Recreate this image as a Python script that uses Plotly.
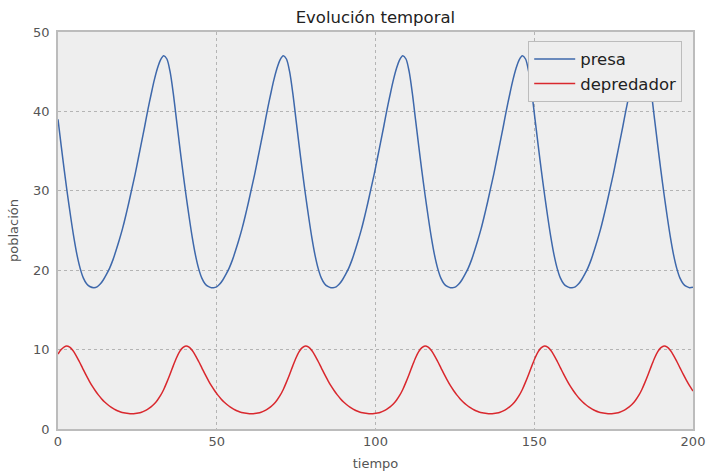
import plotly.graph_objects as go

# ---- data ----
# presa (prey)
presa_t_0 = [0, 1, 2, 3, 4, 5, 6, 7, 8, 9, 10]
presa_v_0 = [39.0, 35.7, 32.5, 29.5, 26.7, 24.1, 21.9, 20.2, 19.0, 18.3, 17.95]

presa_t_1 = [11.3, 12.3, 13.3, 14.3, 15.3, 16.3, 17.3, 18.3, 19.3, 20.3, 21.3, 22.3, 23.3, 24.3, 25.3, 26.3, 27.3, 28.3, 29.3,
             30.3, 31.3, 32.3, 33.3, 34.3, 35.3, 36.3, 37.3, 38.3, 39.3, 40.3, 41.3, 42.3, 43.3, 44.3, 45.3, 46.3, 47.3, 48.3]
presa_t_2 = [48.95, 49.95, 50.95, 51.95, 52.95, 53.95, 54.95, 55.95, 56.95, 57.95, 58.95, 59.95, 60.95, 61.95, 62.95, 63.95,
             64.95, 65.95, 66.95, 67.95, 68.95, 69.95, 70.95, 71.95, 72.95, 73.95, 74.95, 75.95, 76.95, 77.95, 78.95, 79.95,
             80.95, 81.95, 82.95, 83.95, 84.95, 85.95]
presa_t_3 = [86.6, 87.6, 88.6, 89.6, 90.6, 91.6, 92.6, 93.6, 94.6, 95.6, 96.6, 97.6, 98.6, 99.6, 100.6, 101.6, 102.6, 103.6,
             104.6, 105.6, 106.6, 107.6, 108.6, 109.6, 110.6, 111.6, 112.6, 113.6, 114.6, 115.6, 116.6, 117.6, 118.6, 119.6,
             120.6, 121.6, 122.6, 123.6]
presa_t_4 = [124.25, 125.25, 126.25, 127.25, 128.25, 129.25, 130.25, 131.25, 132.25, 133.25, 134.25, 135.25, 136.25, 137.25,
             138.25, 139.25, 140.25, 141.25, 142.25, 143.25, 144.25, 145.25, 146.25, 147.25, 148.25, 149.25, 150.25, 151.25,
             152.25, 153.25, 154.25, 155.25, 156.25, 157.25, 158.25, 159.25, 160.25, 161.25]
presa_t_5 = [161.9, 162.9, 163.9, 164.9, 165.9, 166.9, 167.9, 168.9, 169.9, 170.9, 171.9, 172.9, 173.9, 174.9, 175.9, 176.9,
             177.9, 178.9, 179.9, 180.9, 181.9, 182.9, 183.9, 184.9, 185.9, 186.9, 187.9, 188.9, 189.9, 190.9, 191.9, 192.9,
             193.9, 194.9, 195.9, 196.9, 197.9, 198.9, 200]
presa_v_1 = [17.8, 17.9, 18.25, 18.8, 19.5, 20.3, 21.3, 22.5, 23.8, 25.2, 26.8, 28.5, 30.3, 32.1, 34.1, 36.1, 38.1, 40.2, 42.1,
             43.9, 45.4, 46.5, 47.0, 46.6, 45.0, 42.3, 39.0, 35.7, 32.5, 29.5, 26.7, 24.1, 21.9, 20.2, 19.0, 18.3, 17.95, 17.8]
presa_v_2 = [17.8, 17.9, 18.25, 18.8, 19.5, 20.3, 21.3, 22.5, 23.8, 25.2, 26.8, 28.5, 30.3, 32.1, 34.1, 36.1, 38.1, 40.2, 42.1,
             43.9, 45.4, 46.5, 47.0, 46.6, 45.0, 42.3, 39.0, 35.7, 32.5, 29.5, 26.7, 24.1, 21.9, 20.2, 19.0, 18.3, 17.95, 17.8]
presa_v_3 = [17.8, 17.9, 18.25, 18.8, 19.5, 20.3, 21.3, 22.5, 23.8, 25.2, 26.8, 28.5, 30.3, 32.1, 34.1, 36.1, 38.1, 40.2, 42.1,
             43.9, 45.4, 46.5, 47.0, 46.6, 45.0, 42.3, 39.0, 35.7, 32.5, 29.5, 26.7, 24.1, 21.9, 20.2, 19.0, 18.3, 17.95, 17.8]
presa_v_4 = [17.8, 17.9, 18.25, 18.8, 19.5, 20.3, 21.3, 22.5, 23.8, 25.2, 26.8, 28.5, 30.3, 32.1, 34.1, 36.1, 38.1, 40.2, 42.1,
             43.9, 45.4, 46.5, 47.0, 46.6, 45.0, 42.3, 39.0, 35.7, 32.5, 29.5, 26.7, 24.1, 21.9, 20.2, 19.0, 18.3, 17.95, 17.8]
presa_v_5 = [17.8, 17.9, 18.25, 18.8, 19.5, 20.3, 21.3, 22.5, 23.8, 25.2, 26.8, 28.5, 30.3, 32.1, 34.1, 36.1, 38.1, 40.2, 42.1,
             43.9, 45.4, 46.5, 47.0, 46.6, 45.0, 42.3, 39.0, 35.7, 32.5, 29.5, 26.7, 24.1, 21.9, 20.2, 19.0, 18.3, 17.95, 17.8,
             17.85]

# depredador (predator)
dep_t_0 = [0, 1, 2, 2.7, 3.7, 4.7, 5.7, 6.7, 7.7, 8.7, 9.7, 10.7, 11.7, 12.7, 13.7, 14.7, 15.7, 16.7, 17.7, 18.7, 19.7,
           20.7, 21.7, 22.7]
dep_v_0 = [9.45, 10.0, 10.35, 10.45, 10.3, 9.88, 9.25, 8.5, 7.7, 6.9, 6.15, 5.45, 4.85, 4.3, 3.82, 3.4, 3.05, 2.75, 2.5,
           2.3, 2.15, 2.04, 1.97, 1.93]
dep_t_1 = [23.3, 24.3, 25.3, 26.3, 27.3, 28.3, 29.3, 30.3, 31.3, 32.3, 33.3, 34.3, 35.3, 36.3, 37.3, 38.3, 39.3, 40.3,
           41.3, 42.3, 43.3, 44.3, 45.3, 46.3, 47.3, 48.3, 49.3, 50.3, 51.3, 52.3, 53.3, 54.3, 55.3, 56.3, 57.3, 58.3, 59.3, 60.3]
dep_t_2 = [60.95, 61.95, 62.95, 63.95, 64.95, 65.95, 66.95, 67.95, 68.95, 69.95, 70.95, 71.95, 72.95, 73.95, 74.95, 75.95,
           76.95, 77.95, 78.95, 79.95, 80.95, 81.95, 82.95, 83.95, 84.95, 85.95, 86.95, 87.95, 88.95, 89.95, 90.95, 91.95,
           92.95, 93.95, 94.95, 95.95, 96.95, 97.95]
dep_t_3 = [98.6, 99.6, 100.6, 101.6, 102.6, 103.6, 104.6, 105.6, 106.6, 107.6, 108.6, 109.6, 110.6, 111.6, 112.6, 113.6,
           114.6, 115.6, 116.6, 117.6, 118.6, 119.6, 120.6, 121.6, 122.6, 123.6, 124.6, 125.6, 126.6, 127.6, 128.6, 129.6,
           130.6, 131.6, 132.6, 133.6, 134.6, 135.6]
dep_t_4 = [136.25, 137.25, 138.25, 139.25, 140.25, 141.25, 142.25, 143.25, 144.25, 145.25, 146.25, 147.25, 148.25, 149.25,
           150.25, 151.25, 152.25, 153.25, 154.25, 155.25, 156.25, 157.25, 158.25, 159.25, 160.25, 161.25, 162.25, 163.25,
           164.25, 165.25, 166.25, 167.25, 168.25, 169.25, 170.25, 171.25, 172.25, 173.25]
dep_t_5 = [173.9, 174.9, 175.9, 176.9, 177.9, 178.9, 179.9, 180.9, 181.9, 182.9, 183.9, 184.9, 185.9, 186.9, 187.9, 188.9,
           189.9, 190.9, 191.9, 192.9, 193.9, 194.9, 195.9, 196.9, 197.9, 198.9, 199.9, 200]
dep_v_1 = [1.93, 1.96, 2.02, 2.12, 2.28, 2.5, 2.78, 3.15, 3.62, 4.22, 4.98, 5.9, 6.9, 7.95, 8.95, 9.75, 10.25, 10.45,
           10.3, 9.88, 9.25, 8.5, 7.7, 6.9, 6.15, 5.45, 4.85, 4.3, 3.82, 3.4, 3.05, 2.75, 2.5, 2.3, 2.15, 2.04, 1.97, 1.93]
dep_v_2 = [1.93, 1.96, 2.02, 2.12, 2.28, 2.5, 2.78, 3.15, 3.62, 4.22, 4.98, 5.9, 6.9, 7.95, 8.95, 9.75, 10.25, 10.45,
           10.3, 9.88, 9.25, 8.5, 7.7, 6.9, 6.15, 5.45, 4.85, 4.3, 3.82, 3.4, 3.05, 2.75, 2.5, 2.3, 2.15, 2.04, 1.97, 1.93]
dep_v_3 = [1.93, 1.96, 2.02, 2.12, 2.28, 2.5, 2.78, 3.15, 3.62, 4.22, 4.98, 5.9, 6.9, 7.95, 8.95, 9.75, 10.25, 10.45,
           10.3, 9.88, 9.25, 8.5, 7.7, 6.9, 6.15, 5.45, 4.85, 4.3, 3.82, 3.4, 3.05, 2.75, 2.5, 2.3, 2.15, 2.04, 1.97, 1.93]
dep_v_4 = [1.93, 1.96, 2.02, 2.12, 2.28, 2.5, 2.78, 3.15, 3.62, 4.22, 4.98, 5.9, 6.9, 7.95, 8.95, 9.75, 10.25, 10.45,
           10.3, 9.88, 9.25, 8.5, 7.7, 6.9, 6.15, 5.45, 4.85, 4.3, 3.82, 3.4, 3.05, 2.75, 2.5, 2.3, 2.15, 2.04, 1.97, 1.93]
dep_v_5 = [1.93, 1.96, 2.02, 2.12, 2.28, 2.5, 2.78, 3.15, 3.62, 4.22, 4.98, 5.9, 6.9, 7.95, 8.95, 9.75, 10.25, 10.45,
           10.3, 9.88, 9.25, 8.5, 7.7, 6.9, 6.15, 5.45, 4.85, 4.8]

x_ticks = [0, 50, 100, 150, 200]
y_ticks = [0, 10, 20, 30, 40, 50]

tiempo_presa = presa_t_0 + presa_t_1 + presa_t_2 + presa_t_3 + presa_t_4 + presa_t_5
presa = presa_v_0 + presa_v_1 + presa_v_2 + presa_v_3 + presa_v_4 + presa_v_5
tiempo_dep = dep_t_0 + dep_t_1 + dep_t_2 + dep_t_3 + dep_t_4 + dep_t_5
depredador = dep_v_0 + dep_v_1 + dep_v_2 + dep_v_3 + dep_v_4 + dep_v_5

FONT = "DejaVu Sans"
fig = go.Figure()
fig.add_trace(go.Scatter(x=tiempo_presa, y=presa, mode="lines", name="presa", legendgroup="a",
                         line=dict(color="#3E68AB", width=1.5, shape="spline", smoothing=0.8)))
fig.add_trace(go.Scatter(x=tiempo_dep, y=depredador, mode="lines", name="depredador", legendgroup="b",
                         line=dict(color="#D9282E", width=1.5, shape="spline", smoothing=0.8)))

axis_common = dict(showgrid=True, gridcolor="#b4b4b4", griddash="3px,3px", gridwidth=1,
                   zeroline=False, showline=True, mirror=True, linecolor="#bcbcbc", linewidth=1.5,
                   ticks="", automargin=False, tickfont=dict(family=FONT, size=13, color="#555555"))

fig.update_layout(
    width=707, height=473,
    margin=dict(l=57.5, r=13.5, t=32, b=44.4, autoexpand=False),
    paper_bgcolor="white", plot_bgcolor="#EEEEEE",
    font=dict(family=FONT),
    title=dict(text="Evolución temporal", x=0.531, xanchor="center", y=0.964, yanchor="middle", yref="container",
               automargin=False, font=dict(family=FONT, size=16.5, color="#222222")),
    xaxis=dict(range=[0, 200], tickvals=x_ticks, **axis_common,
               title=dict(text="tiempo", standoff=11, font=dict(family=FONT, size=13, color="#555555"))),
    yaxis=dict(range=[0, 50], tickvals=y_ticks, ticklabelstandoff=4, **axis_common,
               title=dict(text="población", standoff=12, font=dict(family=FONT, size=13, color="#555555"))),
    legend=dict(x=0.983, xanchor="right", y=0.978, yanchor="top", bgcolor="#EEEEEE", bordercolor="#bcbcbc",
                borderwidth=1, font=dict(family=FONT, size=16.5, color="#222222"), tracegroupgap=0, itemwidth=41),
    showlegend=True,
)

fig.write_html("out.html", config={"displayModeBar": False},
               post_script="document.body.style.margin='0';document.body.style.overflow='hidden';")
